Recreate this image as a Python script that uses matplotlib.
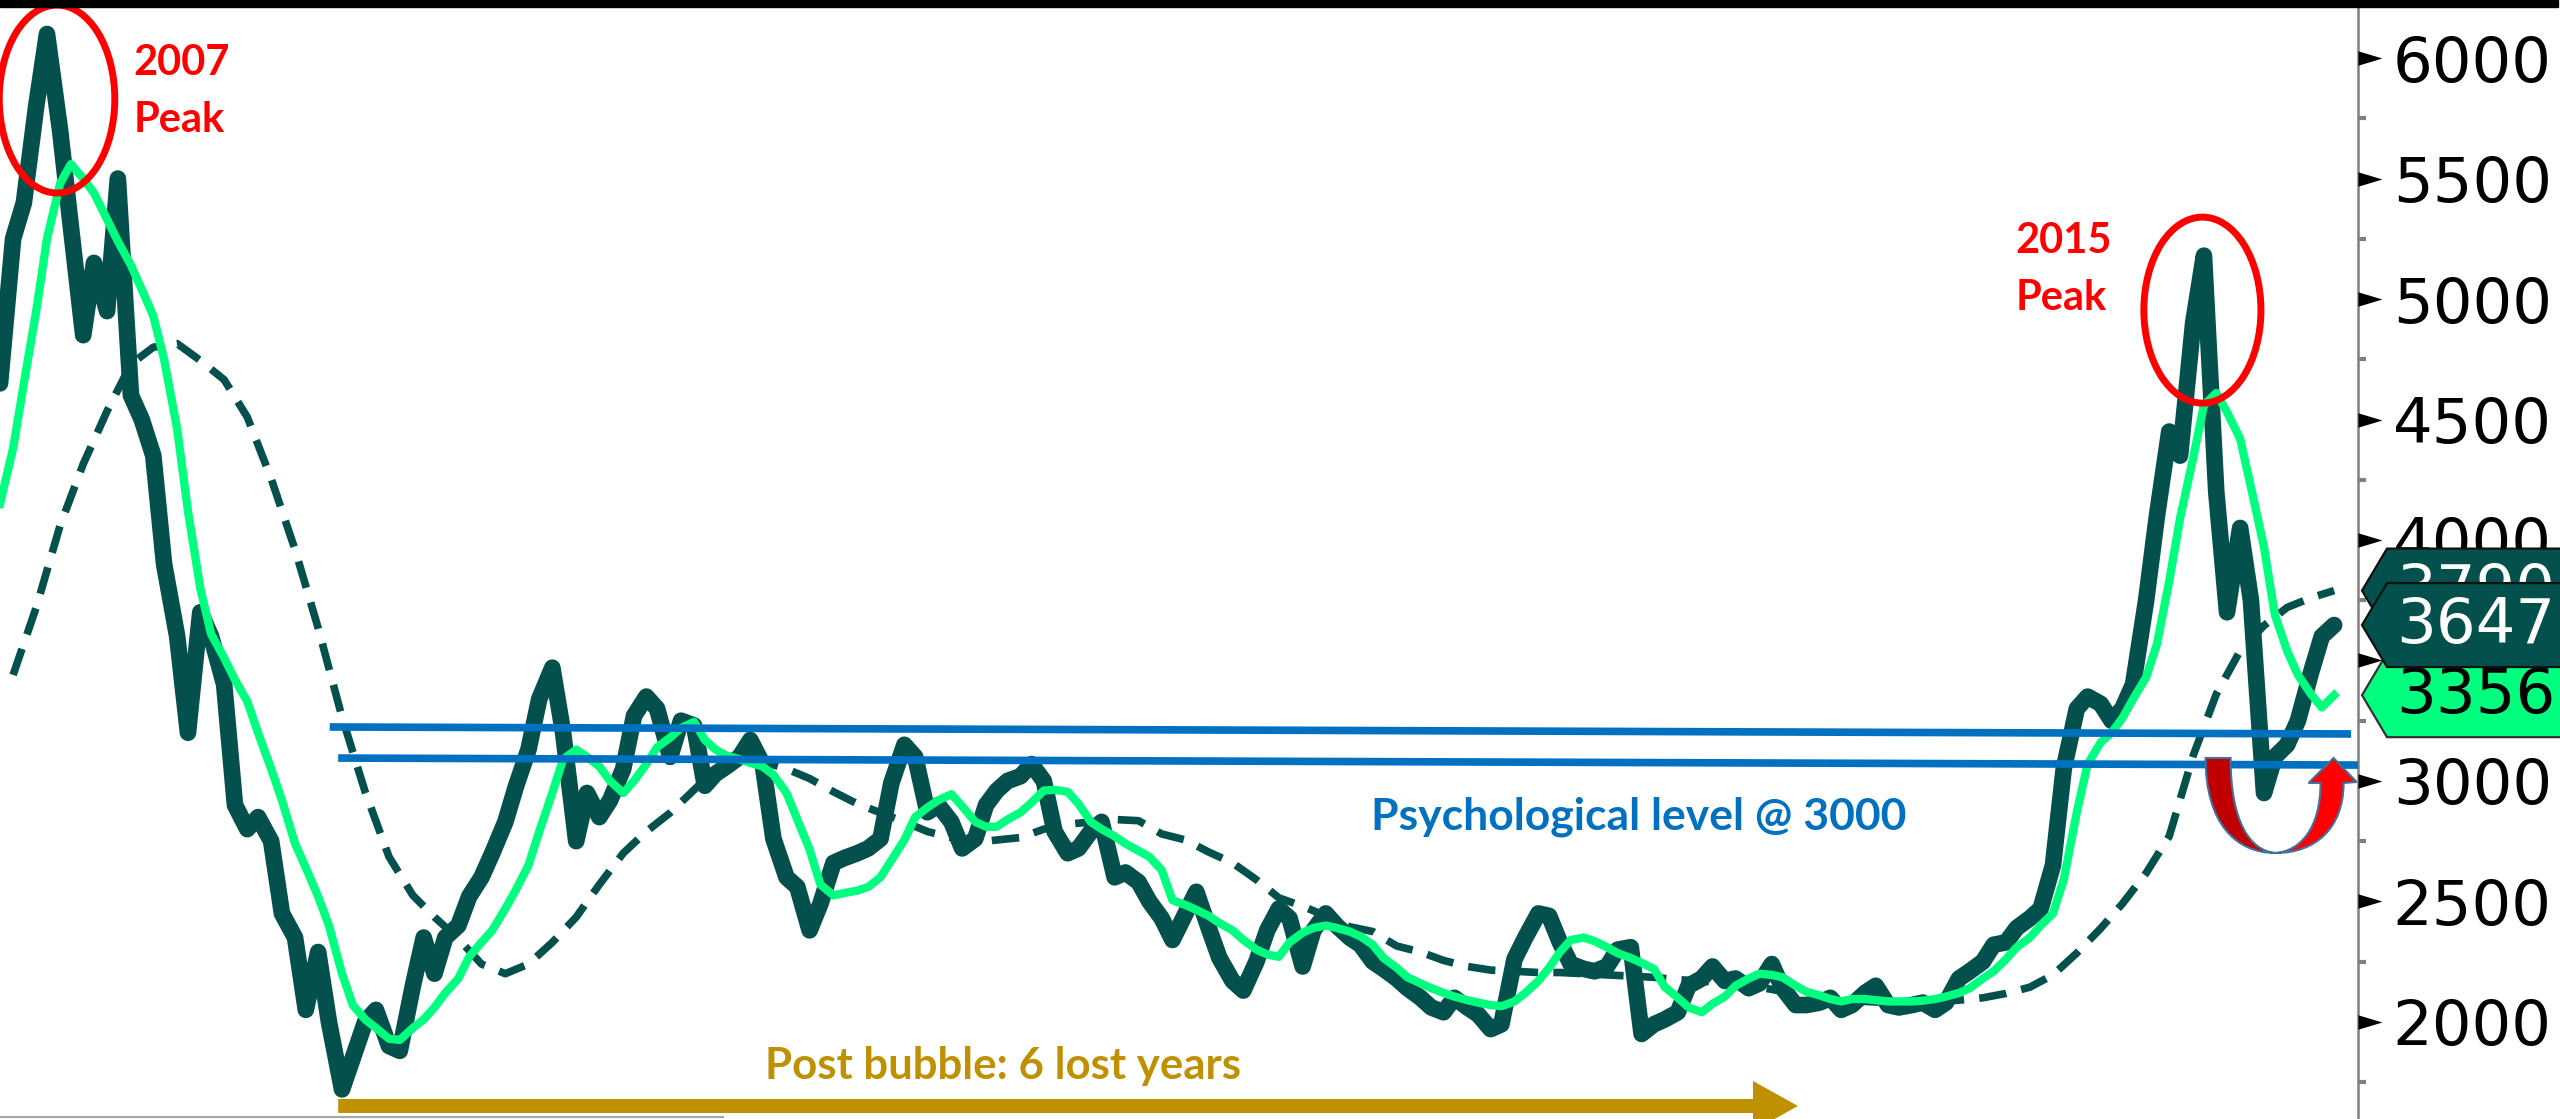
import numpy as np
import pandas as pd
import matplotlib
matplotlib.use("Agg")
import matplotlib.pyplot as plt
import matplotlib.dates as mdates
import matplotlib.transforms as mtransforms
from matplotlib.patches import Ellipse, Polygon, PathPatch, Rectangle
from matplotlib.path import Path
from matplotlib.lines import Line2D

## DATOS: indice de Shanghai (quincenal) y medias moviles

fechas = pd.date_range("2007-08-15", periods=200, freq="SMS")
fechas_mes = pd.date_range("2007-09-01", periods=100, freq="MS")

precio = [
    4650, 5250, 5400, 5800, 6100, 5700, 5300, 4850, 5150, 4950,
    5500, 4600, 4500, 4350, 3900, 3600, 3200, 3700, 3600, 3400,
    2900, 2800, 2850, 2750, 2450, 2350, 2050, 2290, 2000, 1720,
    1850, 2000, 2050, 1900, 1880, 2150, 2350, 2200, 2350, 2400,
    2520, 2600, 2700, 2830, 2980, 3130, 3340, 3470, 3200, 2750,
    2950, 2850, 2920, 3050, 3270, 3350, 3300, 3100, 3250, 3230,
    2980, 3030, 3060, 3100, 3170, 3070, 2760, 2600, 2560, 2380,
    2490, 2660, 2680, 2700, 2720, 2760, 2990, 3150, 3100, 2870,
    2900, 2830, 2720, 2760, 2900, 2960, 3000, 3020, 3070, 3000,
    2790, 2700, 2720, 2790, 2830, 2600, 2620, 2580, 2500, 2430,
    2340, 2450, 2540, 2390, 2265, 2170, 2130, 2250, 2380, 2470,
    2430, 2230, 2380, 2450, 2400, 2350, 2320, 2250, 2220, 2180,
    2140, 2100, 2060, 2040, 2100, 2060, 2030, 1970, 1990, 2260,
    2350, 2450, 2440, 2330, 2240, 2220, 2210, 2230, 2300, 2310,
    1950, 1990, 2010, 2040, 2150, 2180, 2230, 2170, 2180, 2140,
    2160, 2240, 2140, 2070, 2070, 2080, 2100, 2050, 2070, 2120,
    2150, 2070, 2060, 2070, 2080, 2050, 2080, 2180, 2210, 2250,
    2320, 2330, 2390, 2430, 2470, 2650, 3050, 3300, 3350, 3320,
    3250, 3300, 3400, 3750, 4100, 4450, 4350, 4900, 5180, 4200,
    3700, 4050, 3750, 2950, 3100, 3150, 3250, 3450, 3600, 3647,
]

media_corta = [
    4150, 4380, 4650, 4950, 5250, 5480, 5560, 5500, 5440, 5330,
    5240, 5140, 5040, 4930, 4750, 4460, 4120, 3800, 3610, 3510,
    3420, 3330, 3200, 3050, 2920, 2740, 2640, 2520, 2400, 2200,
    2070, 2010, 1975, 1930, 1925, 1975, 2010, 2060, 2120, 2180,
    2270, 2330, 2380, 2470, 2550, 2650, 2790, 2950, 3090, 3130,
    3100, 3060, 3000, 2950, 3000, 3070, 3140, 3180, 3220, 3245,
    3170, 3130, 3105, 3090, 3075, 3060, 3025, 2950, 2840, 2715,
    2570, 2525, 2535, 2545, 2560, 2600, 2670, 2755, 2850, 2890,
    2920, 2945, 2895, 2830, 2810, 2810, 2840, 2870, 2910, 2960,
    2963, 2955, 2905, 2830, 2800, 2770, 2740, 2710, 2685, 2630,
    2505, 2485, 2465, 2440, 2410, 2380, 2340, 2300, 2280, 2270,
    2330, 2370, 2390, 2400, 2390, 2375, 2355, 2320, 2265, 2225,
    2185, 2160, 2140, 2120, 2105, 2090, 2080, 2070, 2065, 2085,
    2120, 2170, 2225, 2290, 2340, 2350, 2335, 2310, 2285, 2265,
    2245, 2220, 2145, 2100, 2060, 2040, 2075, 2105, 2150, 2180,
    2200, 2195, 2185, 2150, 2125, 2110, 2095, 2085, 2095, 2095,
    2090, 2085, 2085, 2085, 2088, 2095, 2105, 2120, 2140, 2180,
    2210, 2260, 2310, 2350, 2400, 2450, 2590, 2870, 3070, 3160,
    3200, 3260, 3340, 3430, 3568, 3830, 4090, 4340, 4560, 4610,
    4530, 4420, 4220, 3970, 3690, 3540, 3440, 3360, 3305, 3356,
]

media_larga = [
    3440, 3720, 4060, 4315, 4535, 4730, 4800, 4815, 4745, 4665,
    4510, 4255, 3960, 3635, 3265, 2955, 2685, 2525, 2435, 2345,
    2240, 2200, 2240, 2330, 2435, 2570, 2700, 2790, 2868, 2963,
    3050, 3100, 3080, 3050, 3010, 2955, 2905, 2868, 2830, 2790,
    2765, 2745, 2755, 2765, 2800, 2820, 2830, 2840, 2835, 2780,
    2755, 2705, 2660, 2590, 2515, 2480, 2440, 2395, 2375, 2315,
    2290, 2255, 2230, 2215, 2210, 2205, 2205, 2200, 2195, 2190,
    2185, 2175, 2170, 2160, 2150, 2135, 2115, 2100, 2090, 2085,
    2080, 2080, 2085, 2090, 2100, 2118, 2144, 2195, 2286, 2388,
    2490, 2618, 2771, 3105, 3360, 3540, 3645, 3720, 3760, 3790,
]

ticks = [2000, 2500, 3000, 3500, 4000, 4500, 5000, 5500, 6000]
ticks_menores = [1750, 2250, 2750, 3250, 3750, 4250, 4750, 5250, 5750]
etiquetas = [str(t) for t in ticks]

# niveles psicologicos (dos lineas casi horizontales)
nivel_sup = (["2008-10-16", "2015-12-23"], [3224, 3195])
nivel_inf = (["2008-10-27", "2016-01-01"], [3095, 3066])

verde_osc = "#03504c"
verde_cl = "#00ff7f"
azul = "#0070c0"
oro = "#bf9000"

W, H = 2560, 1119
fig = plt.figure(figsize=(W / 100, H / 100), dpi=100)
ax = fig.add_axes([0, 0, 2358 / W, 1 - 7 / H])

ax.plot(fechas_mes, media_larga, color=verde_osc, lw=5.5, ls=(0, (3.6, 2.0)), zorder=2)
ax.plot(fechas, precio, color=verde_osc, lw=12, solid_joinstyle="round",
        solid_capstyle="round", zorder=3)
ax.plot(fechas, media_corta, color=verde_cl, lw=6, zorder=4)

for xs, ys in (nivel_sup, nivel_inf):
    ax.plot(pd.to_datetime(xs), ys, color=azul, lw=5.5, solid_capstyle="butt", zorder=5)

ax.set_xlim(pd.Timestamp("2007-08-15"), pd.Timestamp("2016-01-01"))
ax.set_ylim(1597, 6212)
ax.set_xticks([])

for s in ["top", "left", "bottom"]:
    ax.spines[s].set_visible(False)
ax.spines["right"].set_color("#808080")
ax.spines["right"].set_linewidth(1.8)

ax.yaxis.tick_right()
ax.set_yticks(ticks)
ax.set_yticklabels(etiquetas)
ax.set_yticks(ticks_menores, minor=True)
ax.tick_params(axis="y", which="major", length=0, pad=25, labelsize=45, labelcolor="black")
ax.tick_params(axis="y", which="minor", length=6, width=3, color="#808080", direction="out")

# marcas triangulares en los ticks principales
trans_eje = mtransforms.blended_transform_factory(ax.transAxes, ax.transData)
tri = Path([(0, -0.3), (1, 0), (0, 0.3), (0, -0.3)],
           [Path.MOVETO, Path.LINETO, Path.LINETO, Path.CLOSEPOLY])
ax.plot([1] * len(ticks), ticks, ls="none", marker=tri, ms=34.5, mew=0,
        color="black", transform=trans_eje, clip_on=False, zorder=6)


# etiquetas de ultimo valor a la derecha (cada una tapa a la anterior)
def etiqueta(valor, texto, fondo, color_txt, borde, z):
    t = mtransforms.ScaledTranslation(1, valor, trans_eje)
    verts = [(4, 0), (29, 42), (260, 42), (260, -42), (29, -42)]
    ax.add_patch(Polygon(verts, closed=True, fc=fondo, ec=borde, lw=1.6,
                         transform=t, clip_on=False, zorder=z))
    ax.text(38, -1, texto, transform=t, fontsize=45, color=color_txt,
            ha="left", va="center", clip_on=False, zorder=z + 0.5)


etiqueta(media_larga[-1], str(media_larga[-1]), verde_osc, "white", "#111111", 8)
etiqueta(media_corta[-1], str(media_corta[-1]), verde_cl, "black", "#333333", 9)
etiqueta(precio[-1], str(precio[-1]), verde_osc, "white", "#111111", 10)

# picos 2007 y 2015
d = mdates.date2num
ax.add_patch(Ellipse((d(pd.Timestamp("2007-10-28")), 5830), 150, 780,
                     fill=False, ec="red", lw=5, zorder=6))
ax.add_patch(Ellipse((d(pd.Timestamp("2015-06-13")), 4954), 152, 772,
                     fill=False, ec="red", lw=5, zorder=6))

txt = dict(color="red", fontsize=30, fontweight="bold", family="Lato",
           ha="left", va="baseline", zorder=7)
ax.text(pd.Timestamp("2008-02-04"), 5929, "2007", **txt)
ax.text(pd.Timestamp("2008-02-04"), 5693, "Peak", **txt)
ax.text(pd.Timestamp("2014-10-13"), 5191, "2015", **txt)
ax.text(pd.Timestamp("2014-10-13"), 4954, "Peak", **txt)

ax.text(pd.Timestamp("2012-06-29"), 2797, "Psychological level @ 3000", color=azul,
        fontsize=32, fontweight="bold", family="Lato", ha="left", va="baseline", zorder=7)
ax.text(pd.Timestamp("2010-05-04"), 1763, "Post bubble: 6 lost years", color=oro,
        fontsize=31.5, fontweight="bold", family="Lato", ha="left", va="baseline", zorder=7)

ax.annotate("", xy=(pd.Timestamp("2014-01-04"), 1651), xytext=(pd.Timestamp("2008-10-27"), 1651),
            arrowprops=dict(arrowstyle="simple,head_length=0.9,head_width=1.0,tail_width=0.28",
                            fc=oro, ec="none", mutation_scale=36, shrinkA=0, shrinkB=0),
            annotation_clip=False, zorder=7)

# flecha en U (caida bajo 3000 y rebote)
t_u = mtransforms.ScaledTranslation(d(pd.Timestamp("2015-09-16")), 2701, ax.transData)
izq = Path([(-70, 95), (-70, 30), (-40, 0), (0, 0),
            (-25, 2), (-45, 30), (-45, 95), (-70, 95)],
           [Path.MOVETO, Path.CURVE4, Path.CURVE4, Path.CURVE4,
            Path.CURVE4, Path.CURVE4, Path.CURVE4, Path.CLOSEPOLY])
der = Path([(0, 0), (40, 0), (68, 25), (68, 70), (81, 71), (58, 95), (33, 70),
            (45, 70), (45, 25), (25, 2), (0, 0), (0, 0)],
           [Path.MOVETO, Path.CURVE4, Path.CURVE4, Path.CURVE4, Path.LINETO,
            Path.LINETO, Path.LINETO, Path.LINETO, Path.CURVE4, Path.CURVE4,
            Path.CURVE4, Path.CLOSEPOLY])
ax.add_patch(PathPatch(izq, fc="#c00000", ec="#41719c", lw=1.5, transform=t_u,
                       clip_on=False, zorder=7))
ax.add_patch(PathPatch(der, fc="#ff0000", ec="#41719c", lw=1.5, transform=t_u,
                       clip_on=False, zorder=7))

# barra negra superior y linea gris inferior
fig.add_artist(Rectangle((0, 1 - 7 / H), 2558 / W, 7 / H, transform=fig.transFigure,
                         color="black", zorder=10))
fig.add_artist(Line2D([0, 723 / W], [2 / H, 2 / H], transform=fig.transFigure,
                      color="#a6a6a6", lw=1.5))

fig.savefig("out.png", dpi=100, facecolor="white")
